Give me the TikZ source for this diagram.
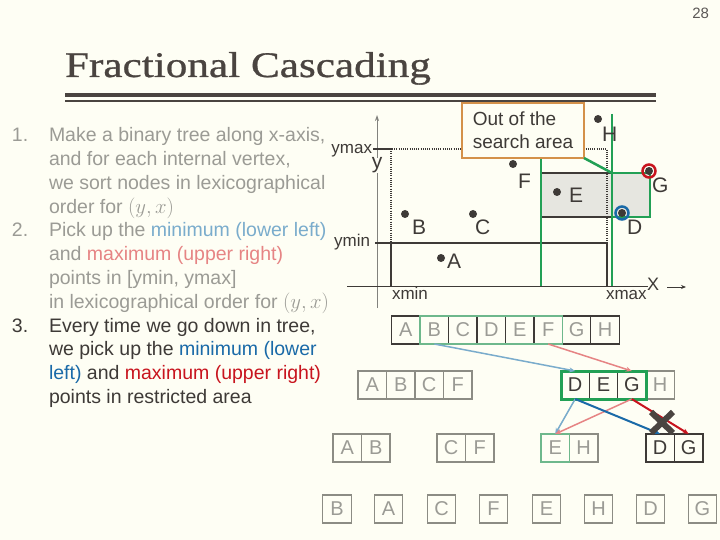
\documentclass[tikz,border=0pt]{standalone}
\usepackage{fontspec}
\setmainfont{Liberation Sans}
\newfontfamily\titlefont[FakeStretch=1.2,FakeBold=0.8]{Liberation Serif}
\usetikzlibrary{arrows.meta}
\definecolor{bg}{RGB}{254,254,244}
\definecolor{dark}{RGB}{62,58,55}
\definecolor{titlecol}{RGB}{74,68,64}
\definecolor{txtgray}{RGB}{155,155,149}
\definecolor{cellgray}{RGB}{140,140,132}
\definecolor{axisgray}{RGB}{130,130,125}
\definecolor{ltblue}{RGB}{122,172,204}
\definecolor{ltred}{RGB}{230,132,132}
\definecolor{dkblue}{RGB}{26,106,168}
\definecolor{dkred}{RGB}{200,20,30}
\definecolor{grn}{RGB}{34,160,85}
\definecolor{ltgrn}{RGB}{110,184,140}
\definecolor{orng}{RGB}{212,145,74}
\definecolor{boxgray}{RGB}{230,230,224}
\tikzset{
  every node/.style={inner sep=0pt, outer sep=0pt},
  lt/.style={anchor=base west, font=\fontsize{19.5}{23}\selectfont, text=txtgray},
  lt3/.style={lt, text=dark},
  plab/.style={anchor=base west, font=\fontsize{21}{25}\selectfont, text=dark},
  small/.style={font=\fontsize{17}{20}\selectfont, text=dark},
  pdot/.style={circle, fill=dark, minimum size=8pt},
  cell/.style={draw=cellgray, line width=1.2pt, minimum width=28.4pt, minimum height=28pt, font=\fontsize{20}{24}\selectfont, text=txtgray},
  dcell/.style={cell, draw=dark},
  arr/.style={line width=1.5pt, -{Stealth[length=6pt,width=5pt]}},
  dotline/.style={dark, line width=2pt, dash pattern=on 1pt off 1.2pt},
  thick2/.style={dark, line width=2.5pt},
  gline/.style={grn, line width=2.5pt}
}
\begin{document}
\begin{tikzpicture}[x=1pt,y=-1pt]
\fill[bg] (0,0) rectangle (720,540);
\useasboundingbox (0,0) rectangle (720,540);

% page number and title
\node[anchor=base east, font=\fontsize{15}{18}\selectfont, text=dark!85] (pnum) at (709,19) {28};
\node[anchor=base west, font=\titlefont\fontsize{36}{40}\selectfont, text=titlecol] (title) at (65,77) {Fractional Cascading};
\draw[titlecol, line width=3.3pt] (65,95) -- (656,95);
\draw[titlecol, line width=2pt] (65,101.5) -- (656,101.5);

% left text
\node[lt] (n1) at (12,141.7) {1.};
\node[lt] (l1) at (49,141.7) {Make a binary tree along x-axis,};
\node[lt] (l2) at (49,165.5) {and for each internal vertex,};
\node[lt] (l3) at (49,189.3) {we sort nodes in lexicographical};
\node[lt] (l4) at (49,213.1) {order for $(y,x)$};
\node[lt] (n2) at (12,236.9) {2.};
\node[lt] (l5) at (49,236.9) {Pick up the \textcolor{ltblue}{minimum (lower left)}};
\node[lt] (l6) at (49,260.7) {and \textcolor{ltred}{maximum (upper right)}};
\node[lt] (l7) at (49,284.5) {points in [ymin, ymax]};
\node[lt] (l8) at (49,308.3) {in lexicographical order for $(y,x)$};
\node[lt3] (n3) at (12,332.1) {3.};
\node[lt3] (l9) at (49,332.1) {Every time we go down in tree,};
\node[lt3] (l10) at (49,355.9) {we pick up the \textcolor{dkblue}{minimum (lower}};
\node[lt3] (l11) at (49,379.7) {\textcolor{dkblue}{left)} and \textcolor{dkred}{maximum (upper right)}};
\node[lt3] (l12) at (49,403.5) {points in restricted area};

% plot: gray region
\fill[boxgray] (542,173) rectangle (650,217);
\draw[dark, line width=2.2pt] (542,173) -- (612,173) (542,217) -- (612,217);
\draw[grn, line width=2.2pt] (612,173) -- (650,173) -- (650,217) -- (612,217);

% axes
\draw[axisgray, line width=0.8pt, -{Stealth[length=6pt,width=4pt]}] (377,308) -- (377,115);
\draw[dark, line width=1pt] (347,286) -- (648,286);
\node[anchor=base, font=\fontsize{21}{25}\selectfont, text=dark, fill=bg] (ylab) at (377,169) {y};
\node[anchor=base west, font=\fontsize{18}{21}\selectfont, text=dark] (xlab) at (647,290) {X};
\coordinate (xa1) at (667,287);
\coordinate (xa2) at (686,287);
\draw[dark, line width=0.8pt, -{Stealth[length=5pt,width=4pt]}] (xa1) -- (xa2);
\node[small, anchor=base east] (ymaxl) at (372,154) {ymax};
\node[small, anchor=base east] (yminl) at (370,247) {ymin};
\node[small, anchor=base west] (xminl) at (392,299) {xmin};
\node[small, anchor=base west] (xmaxl) at (606,299) {xmax};

% search range
\draw[dotline] (392,149) -- (607,149) -- (607,243);
\draw[dotline] (391,149) -- (391,243);
\draw[thick2] (373,149) -- (392,149);
\draw[thick2] (375,243) -- (607,243);
\draw[thick2] (391,243) -- (391,286);
\draw[thick2] (607,243) -- (607,286);

% green split lines
\draw[gline] (541,158) -- (541,286);
\draw[gline] (612,114) -- (612,286);

% callout
\node[draw=orng, line width=2pt, fill=bg, minimum width=122pt, minimum height=55pt, align=left, font=\fontsize{19}{23}\selectfont, text=dark] (outbox) at (523,130.5) {Out of the\\search area};
\coordinate (gjoin) at (612,173);
\draw[gline] (outbox.south east) -- (gjoin);

% points
\node[pdot] (pH) at (598,119) {};
\node[pdot] (pF) at (513,164) {};
\node[pdot] (pE) at (557,192) {};
\node[pdot] (pG) at (649,171) {};
\node[pdot] (pD) at (622,213) {};
\node[pdot] (pB) at (405,214) {};
\node[pdot] (pC) at (473,214) {};
\node[pdot] (pA) at (441,258) {};
\draw[dkred, line width=2.5pt] (pG) circle (6.5pt);
\draw[dkblue, line width=2.5pt] (pD) circle (6.5pt);
\node[plab] (tH) at (602,142) {H};
\node[plab] (tF) at (518,189) {F};
\node[plab] (tE) at (569,203) {E};
\node[plab] (tG) at (652,193) {G};
\node[plab] (tD) at (627,235) {D};
\node[plab] (tB) at (412,235) {B};
\node[plab] (tC) at (475,235) {C};
\node[plab] (tA) at (447,268) {A};

% tree row 1
\foreach \l [count=\i from 0] in {A,B,C,D,E,F,G,H}
  \node[dcell] (r1\l) at ({405.9+28.45*\i},330) {\l};
\draw[ltgrn, line width=1.5pt] (r1B.north west) rectangle (r1F.south east);

% row 2
\foreach \l [count=\i from 0] in {A,B,C,F}
  \node[cell] (r2\l) at ({372.2+28.5*\i},385) {\l};
\foreach \l [count=\i from 0] in {D,E,G}
  \node[dcell, text=dark] (r2\l) at ({575.2+28.3*\i},385) {\l};
\node[cell] (r2H) at (660.1,385) {H};
\draw[grn, line width=3pt] (r2D.north west) rectangle (r2G.south east);

% row 3
\node[cell] (r3A) at (347.2,448) {A};
\node[cell] (r3B) at (375.7,448) {B};
\node[cell] (r3C) at (451.2,448) {C};
\node[cell] (r3F) at (479.7,448) {F};
\node[cell] (r3H) at (583.7,448) {H};
\node[cell, draw=ltgrn] (r3E) at (555.2,448) {E};
\node[dcell, text=dark] (r3D) at (660.2,448) {D};
\node[dcell, text=dark] (r3G) at (688.7,448) {G};

% row 4
\node[cell] (r4B) at (337,509) {B};
\node[cell] (r4A) at (388.5,509) {A};
\node[cell] (r4C) at (441.5,509) {C};
\node[cell] (r4F) at (493.5,509) {F};
\node[cell] (r4E) at (546.5,509) {E};
\node[cell] (r4H) at (598.5,509) {H};
\node[cell] (r4D) at (650.5,509) {D};
\node[cell] (r4G) at (702.5,509) {G};

% cascading pointers
\draw[arr, ltblue] (r1B.south) -- (r2D.north);
\draw[arr, ltred] (r1F.south) -- (r2G.north);
\draw[arr, ltblue] (r2D.south) -- (r3E.north);
\draw[arr, ltred] (r2G.south) -- (r3E.north);
\draw[arr, dkblue, line width=2pt] (r2D.south) -- (r3D.north);
\draw[arr, dkred, line width=2pt] (r2G.south) -- (r3G.north);
\draw[titlecol, line width=6pt] (651,412) -- (673,433) (651,433) -- (673,412);
\end{tikzpicture}
\end{document}
